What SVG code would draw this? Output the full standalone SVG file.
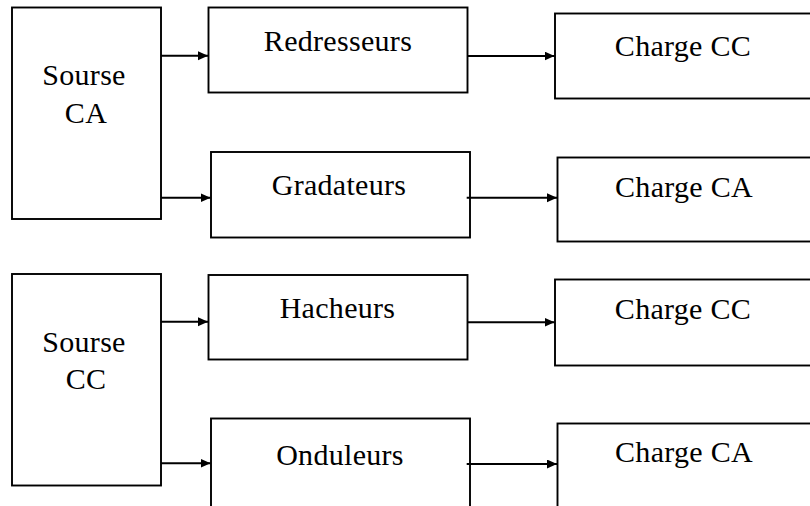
<svg xmlns="http://www.w3.org/2000/svg" width="810" height="506" viewBox="0 0 810 506">
<style>
.box{fill:#fff;stroke:#000;stroke-width:1.9}
.lbl{font-family:"Liberation Serif","Times New Roman",serif;font-size:30px;fill:#000;text-anchor:middle;letter-spacing:0.3px}
.con{stroke:#000;stroke-width:2;fill:none}
</style>
<defs>
<marker id="ah" markerUnits="userSpaceOnUse" markerWidth="10" markerHeight="10" refX="10" refY="4.5" orient="auto">
<path d="M0,0 L10,4.5 L0,9 z" fill="#000"/>
</marker>
</defs>
<rect x="0" y="0" width="810" height="506" fill="#fff"/>
<g id="sourse-ca"><rect class="box" x="12" y="7.5" width="149" height="211.5"/><text class="lbl" x="84" y="85">Sourse</text><text class="lbl" x="86" y="123">CA</text></g>
<g id="redresseurs"><rect class="box" x="208.5" y="7.5" width="259" height="85"/><text class="lbl" x="338" y="51">Redresseurs</text></g>
<g id="gradateurs"><rect class="box" x="211" y="152" width="259" height="85.5"/><text class="lbl" x="339" y="195">Gradateurs</text></g>
<g id="charge-cc-1"><rect class="box" x="555" y="13.5" width="270" height="85"/><text class="lbl" x="683" y="56">Charge CC</text></g>
<g id="charge-ca-1"><rect class="box" x="557.5" y="157.5" width="270" height="84"/><text class="lbl" x="684" y="197">Charge CA</text></g>
<g id="sourse-cc"><rect class="box" x="12" y="274" width="149" height="211.5"/><text class="lbl" x="84" y="352">Sourse</text><text class="lbl" x="86" y="389">CC</text></g>
<g id="hacheurs"><rect class="box" x="208.5" y="275" width="259" height="84.5"/><text class="lbl" x="337.5" y="318">Hacheurs</text></g>
<g id="onduleurs"><rect class="box" x="211" y="418.5" width="259" height="100"/><text class="lbl" x="340" y="465">Onduleurs</text></g>
<g id="charge-cc-2"><rect class="box" x="555" y="279.5" width="270" height="86"/><text class="lbl" x="683" y="319">Charge CC</text></g>
<g id="charge-ca-2"><rect class="box" x="557.5" y="423.5" width="270" height="100"/><text class="lbl" x="684" y="462">Charge CA</text></g>
<g id="connectors">
<line class="con" x1="161" y1="55.7" x2="208" y2="55.7" marker-end="url(#ah)"/>
<line class="con" x1="161" y1="197.7" x2="210.5" y2="197.7" marker-end="url(#ah)"/>
<line class="con" x1="467.5" y1="56" x2="554.5" y2="56" marker-end="url(#ah)"/>
<line class="con" x1="466.7" y1="197.7" x2="557" y2="197.7" marker-end="url(#ah)"/>
<line class="con" x1="161" y1="321.7" x2="208" y2="321.7" marker-end="url(#ah)"/>
<line class="con" x1="161" y1="463.3" x2="210.5" y2="463.3" marker-end="url(#ah)"/>
<line class="con" x1="467.5" y1="322.3" x2="554.5" y2="322.3" marker-end="url(#ah)"/>
<line class="con" x1="466.7" y1="464" x2="557" y2="464" marker-end="url(#ah)"/>
</g>
</svg>
